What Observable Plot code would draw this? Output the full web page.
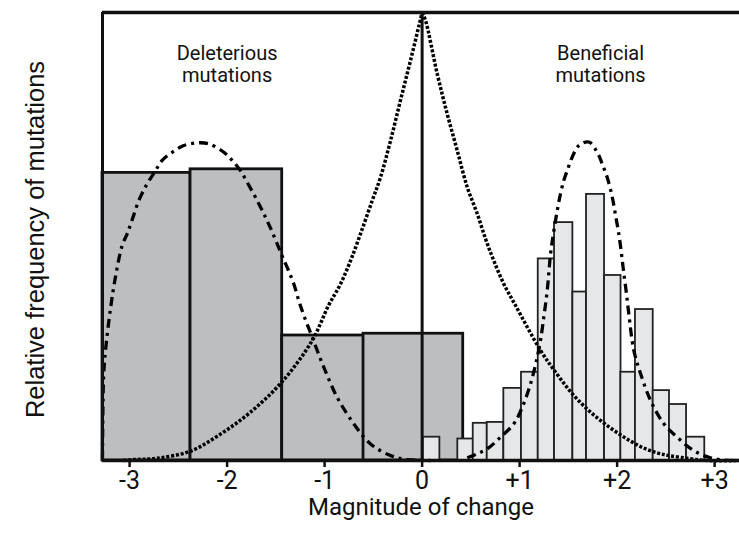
<!DOCTYPE html>
<html><head><meta charset="utf-8">
<script src="https://cdn.jsdelivr.net/npm/d3@7"></script>
<script src="https://cdn.jsdelivr.net/npm/@observablehq/plot@0.6"></script>
<style>html,body{margin:0;padding:0;background:#fff;}</style>
</head><body><div id="chart"></div>
<script>
// ---- axis ticks ----
const xTickValues = [-3, -2, -1, 0, 1, 2, 3];
const xTickLabels = ["-3", "-2", "-1", "0", "+1", "+2", "+3"];

// ---- deleterious mutations histogram (dark bars) ----
const delX1 = [-3.278, -2.375, -1.435, -0.601];
const delX2 = [-2.375, -1.435, -0.591, 0.4215];
const delFreq = [0.642, 0.650, 0.279, 0.283];

// ---- beneficial mutations histogram (light bars) ----
const benX1 = [0.011, 0.366, 0.524, 0.668, 0.838, 1.019, 1.191, 1.358, 1.546, 1.686, 1.871, 2.038, 2.188, 2.370, 2.537, 2.712];
const benX2 = [0.182, 0.548, 0.668, 0.838, 1.019, 1.191, 1.358, 1.546, 1.686, 1.871, 2.040, 2.188, 2.370, 2.537, 2.712, 2.899];
const benFreq = [0.052, 0.048, 0.083, 0.085, 0.161, 0.197, 0.450, 0.531, 0.376, 0.594, 0.413, 0.197, 0.337, 0.156, 0.125, 0.052];

// ---- dotted curve (all mutations) ----
const dotLeftX = [-3.063, -2.957, -2.717, -2.375, -2.060, -1.760, -1.435, -1.127, -0.960, -0.837, -0.734, -0.632, -0.512, -0.427, -0.324, -0.222, -0.119, 0];
const dotLeftY = [0.000, 0.002, 0.005, 0.021, 0.060, 0.108, 0.176, 0.268, 0.346, 0.394, 0.446, 0.506, 0.580, 0.632, 0.714, 0.804, 0.893, 1.0];
const dotRightX = [0, 0.035, 0.155, 0.257, 0.360, 0.463, 0.565, 0.650, 0.735, 0.838, 0.958, 1.214, 1.386, 1.556, 1.727, 1.898, 2.086, 2.271, 2.445, 2.650, 2.924, 3.255];
const dotRightY = [1.0, 0.982, 0.863, 0.774, 0.692, 0.610, 0.551, 0.495, 0.446, 0.394, 0.346, 0.246, 0.192, 0.145, 0.108, 0.078, 0.050, 0.028, 0.015, 0.007, 0.000, 0.000];

// ---- dash-dot curve, deleterious ----
const delCurveX = [-3.278, -3.267, -3.247, -3.196, -3.144, -3.076, -3.025, -2.973, -2.906, -2.819, -2.734, -2.666, -2.563, -2.444, -2.307, -2.188, -2.034, -1.948, -1.863, -1.794, -1.691, -1.606, -1.537, -1.452, -1.384, -1.316, -1.265, -1.213, -1.127, -1.008, -0.871, -0.701, -0.529, -0.324, -0.153, 0.086];
const delCurveY = [0.002, 0.186, 0.246, 0.339, 0.411, 0.480, 0.506, 0.538, 0.580, 0.618, 0.647, 0.670, 0.688, 0.703, 0.709, 0.707, 0.688, 0.670, 0.647, 0.621, 0.580, 0.543, 0.510, 0.465, 0.431, 0.394, 0.357, 0.324, 0.275, 0.208, 0.141, 0.082, 0.037, 0.011, 0.002, 0.000];

// ---- dash-dot curve, beneficial ----
const benCurveX = [0.463, 0.565, 0.668, 0.804, 0.941, 1.027, 1.112, 1.181, 1.214, 1.248, 1.283, 1.317, 1.351, 1.386, 1.419, 1.453, 1.488, 1.539, 1.607, 1.710, 1.796, 1.847, 1.898, 1.950, 1.984, 2.017, 2.045, 2.069, 2.096, 2.120, 2.171, 2.240, 2.343, 2.479, 2.616, 2.787, 2.992, 3.255];
const benCurveY = [0.006, 0.015, 0.026, 0.052, 0.082, 0.119, 0.171, 0.231, 0.268, 0.320, 0.379, 0.461, 0.513, 0.558, 0.595, 0.625, 0.647, 0.677, 0.703, 0.711, 0.688, 0.662, 0.632, 0.588, 0.547, 0.506, 0.461, 0.417, 0.372, 0.327, 0.246, 0.194, 0.134, 0.082, 0.052, 0.022, 0.004, 0.000];

// ---- text ----
const annotationText = ["Deleterious\nmutations", "Beneficial\nmutations"];
const annotationX = [-2.0, 1.83];
const annotationY = [0.928, 0.928];
const xLabel = "Magnitude of change";
const yLabel = "Relative frequency of mutations";

// ---- build tables ----
const xMin = -3.278, xMax = 3.255;
const delBars = delX1.map((x1, i) => ({x1, x2: delX2[i], y: delFreq[i]}));
const benBars = benX1.map((x1, i) => ({x1, x2: benX2[i], y: benFreq[i]}));
const dotted = [
  ...dotLeftX.map((x, i) => ({x, y: dotLeftY[i], side: "left"})),
  ...dotRightX.map((x, i) => ({x, y: dotRightY[i], side: "right"}))
];
const dashDot = [
  ...delCurveX.map((x, i) => ({x, y: delCurveY[i], g: "del"})),
  ...benCurveX.map((x, i) => ({x, y: benCurveY[i], g: "ben"}))
];
const annotations = annotationText.map((t, i) => ({t, x: annotationX[i], y: annotationY[i]}));
const tickLabels = xTickValues.map((x, i) => ({x, t: xTickLabels[i]}));

const chart = Plot.plot({
  width: 739,
  height: 535,
  marginLeft: 102,
  marginRight: 0,
  marginTop: 12,
  marginBottom: 75,
  x: {domain: [xMin, xMax]},
  y: {domain: [0, 1], axis: null},
  style: {fontFamily: "Roboto, sans-serif", background: "#fff", color: "#111", overflow: "visible"},
  marks: [
    Plot.rectY(delBars, {x1: "x1", x2: "x2", y: "y", fill: "#bdbec0", stroke: "#111", strokeWidth: 2.8}),
    Plot.rectY(benBars, {x1: "x1", x2: "x2", y: "y", fill: "#e6e7e8", stroke: "#222", strokeWidth: 1.8}),
    Plot.line(dotted, {x: "x", y: "y", z: "side", curve: "catmull-rom", stroke: "#000", strokeWidth: 3.5, strokeDasharray: "3,1.8", strokeLinecap: "butt"}),
    Plot.line(dashDot, {x: "x", y: "y", z: "g", curve: "catmull-rom", stroke: "#000", strokeWidth: 3.3, strokeDasharray: "9,5,3,5", strokeLinecap: "butt"}),
    Plot.ruleX([0], {stroke: "#111", strokeWidth: 3}),
    Plot.ruleX([xMin], {stroke: "#111", strokeWidth: 3}),
    Plot.ruleY([1], {stroke: "#111", strokeWidth: 3.5}),
    Plot.ruleY([0], {stroke: "#111", strokeWidth: 3.5}),
    Plot.axisX({ticks: xTickValues, tickSize: 7, strokeWidth: 2.5, stroke: "#111", text: null, label: null}),
    Plot.text(tickLabels, {x: "x", text: "t", frameAnchor: "bottom", lineAnchor: "top", dy: 11, fontSize: 25, fill: "#111"}),
    Plot.text([xLabel], {frameAnchor: "bottom", lineAnchor: "bottom", dy: 54, fontSize: 24, fill: "#111"}),
    Plot.text([yLabel], {frameAnchor: "left", textAnchor: "middle", rotate: -90, dx: -67, dy: 3, fontSize: 25.5, fill: "#111", fontFamily: "Liberation Sans, Arial, sans-serif"}),
    Plot.text(annotations, {x: "x", y: "y", text: "t", lineAnchor: "top", fontSize: 20, lineHeight: 1.1, fill: "#111"})
  ]
});
document.getElementById("chart").appendChild(chart);
</script>
</body></html>
